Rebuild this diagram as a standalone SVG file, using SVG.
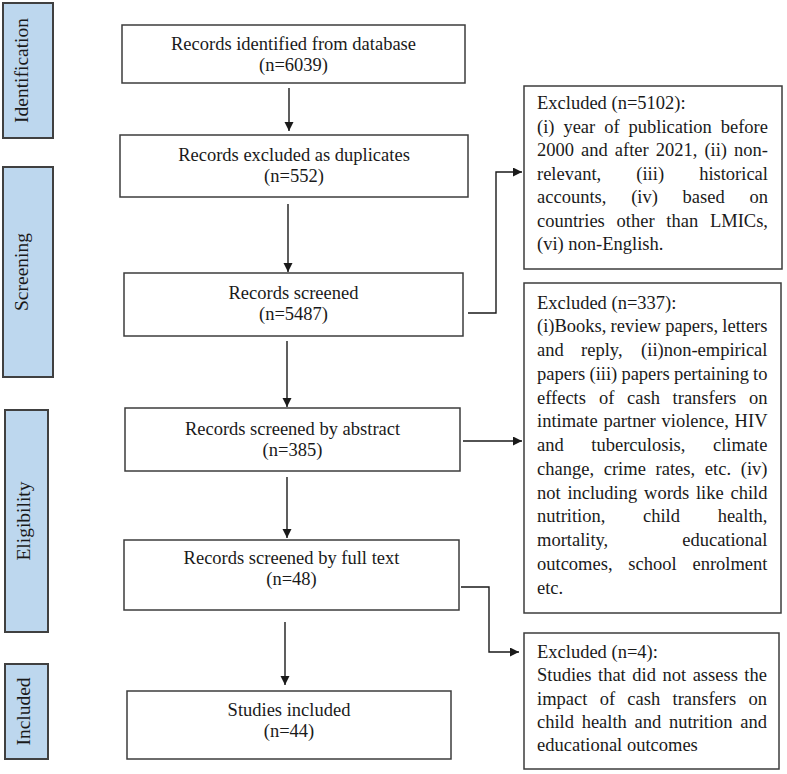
<svg xmlns="http://www.w3.org/2000/svg" width="787" height="774" viewBox="0 0 787 774">
<style>
  .bg{fill:#ffffff}
  .box{fill:#ffffff;stroke:#3c3c3c;stroke-width:1.5}
  .side{fill:#bdd7ee;stroke:#404040;stroke-width:2}
  text{font-family:"Liberation Serif","Times New Roman",serif;font-size:18.5px;fill:#1a1a1a}
  .c{text-anchor:middle}
  .lab{font-size:19.5px;text-anchor:middle}
  .conn{fill:none;stroke:#1a1a1a;stroke-width:1.4}
</style>
<defs>
  <marker id="ah" markerUnits="userSpaceOnUse" markerWidth="10" markerHeight="10" refX="9" refY="4.5" orient="auto">
    <path d="M0,0 L9,4.5 L0,9 Z" fill="#1a1a1a"/>
  </marker>
</defs>
<rect class="bg" x="0" y="0" width="787" height="774"/>

<g id="stage-identification">
  <rect class="side" x="3" y="3" width="50" height="135"/>
  <text class="lab" transform="translate(28,70.5) rotate(-90)">Identification</text>
</g>
<g id="stage-screening">
  <rect class="side" x="3" y="167" width="50" height="210"/>
  <text class="lab" transform="translate(27.5,272) rotate(-90)">Screening</text>
</g>
<g id="stage-eligibility">
  <rect class="side" x="5" y="410" width="43" height="222"/>
  <text class="lab" transform="translate(30,521) rotate(-90)">Eligibility</text>
</g>
<g id="stage-included">
  <rect class="side" x="5" y="664" width="43" height="95"/>
  <text class="lab" transform="translate(29.5,711.5) rotate(-90)">Included</text>
</g>

<g id="identified">
  <rect class="box" x="122" y="25" width="343" height="58"/>
  <text class="c" x="293.5" y="50">Records identified from database</text>
  <text class="c" x="293.5" y="71">(n=6039)</text>
</g>
<g id="duplicates">
  <rect class="box" x="120" y="135" width="348" height="62"/>
  <text class="c" x="294" y="161">Records excluded as duplicates</text>
  <text class="c" x="294" y="182">(n=552)</text>
</g>
<g id="screened">
  <rect class="box" x="124" y="273" width="339" height="63"/>
  <text class="c" x="293.5" y="299">Records screened</text>
  <text class="c" x="293.5" y="320">(n=5487)</text>
</g>
<g id="abstract">
  <rect class="box" x="125" y="408" width="335" height="63"/>
  <text class="c" x="292.5" y="435">Records screened by abstract</text>
  <text class="c" x="292.5" y="456">(n=385)</text>
</g>
<g id="fulltext">
  <rect class="box" x="124" y="540" width="335" height="70"/>
  <text class="c" x="291.5" y="564">Records screened by full text</text>
  <text class="c" x="291.5" y="585">(n=48)</text>
</g>
<g id="included">
  <rect class="box" x="127" y="691" width="324" height="68"/>
  <text class="c" x="289" y="716">Studies included</text>
  <text class="c" x="289" y="737">(n=44)</text>
</g>

<g id="excluded-5102">
  <rect class="box" x="524" y="86" width="258" height="183"/>
  <text x="537" y="109">Excluded (n=5102):</text>
  <text y="132.5"><tspan x="537">(i)</tspan><tspan x="563.41">year</tspan><tspan x="604.2">of</tspan><tspan x="628.56">publication</tspan><tspan x="720.75">before</tspan></text>
  <text y="156"><tspan x="537">2000</tspan><tspan x="581.05">and</tspan><tspan x="614.81">after</tspan><tspan x="655.75">2021,</tspan><tspan x="704.43">(ii)</tspan><tspan x="734.09">non-</tspan></text>
  <text y="179.5"><tspan x="537">relevant,</tspan><tspan x="636.3">(iii)</tspan><tspan x="699.14">historical</tspan></text>
  <text y="203"><tspan x="537">accounts,</tspan><tspan x="631.13">(iv)</tspan><tspan x="682.61">based</tspan><tspan x="749.5">on</tspan></text>
  <text y="226.5"><tspan x="537">countries</tspan><tspan x="616.56">other</tspan><tspan x="666.32">than</tspan><tspan x="709.92">LMICs,</tspan></text>
  <text x="537" y="250">(vi) non-English.</text>
</g>

<g id="excluded-337">
  <rect class="box" x="524" y="283" width="257" height="330"/>
  <text x="537" y="308.5">Excluded (n=337):</text>
  <text y="332.25"><tspan x="537">(i)Books,</tspan><tspan x="610.6">review</tspan><tspan x="665.16">papers,</tspan><tspan x="722.29">letters</tspan></text>
  <text y="356"><tspan x="537">and</tspan><tspan x="581.09">reply,</tspan><tspan x="641.11">(ii)non-empirical</tspan></text>
  <text y="379.75"><tspan x="537">papers</tspan><tspan x="589.48">(iii)</tspan><tspan x="621.42">papers</tspan><tspan x="673.89">pertaining</tspan><tspan x="753.1">to</tspan></text>
  <text y="403.5"><tspan x="537">effects</tspan><tspan x="598.98">of</tspan><tspan x="627.07">cash</tspan><tspan x="672.62">transfers</tspan><tspan x="749">on</tspan></text>
  <text y="427.25"><tspan x="537">intimate</tspan><tspan x="603.4">partner</tspan><tspan x="661.55">violence,</tspan><tspan x="734.61">HIV</tspan></text>
  <text y="451"><tspan x="537">and</tspan><tspan x="591.35">tuberculosis,</tspan><tspan x="713.03">climate</tspan></text>
  <text y="474.75"><tspan x="537">change,</tspan><tspan x="603.74">crime</tspan><tspan x="655.58">rates,</tspan><tspan x="704.85">etc.</tspan><tspan x="740.77">(iv)</tspan></text>
  <text y="498.5"><tspan x="537">not</tspan><tspan x="567.39">including</tspan><tspan x="644.03">words</tspan><tspan x="695.99">like</tspan><tspan x="730.49">child</tspan></text>
  <text y="522.25"><tspan x="537">nutrition,</tspan><tspan x="643.01">child</tspan><tspan x="717.66">health,</tspan></text>
  <text y="546"><tspan x="537">mortality,</tspan><tspan x="682.21">educational</tspan></text>
  <text y="569.75"><tspan x="537">outcomes,</tspan><tspan x="628.36">school</tspan><tspan x="692.48">enrolment</tspan></text>
  <text x="537" y="593.5">etc.</text>
</g>

<g id="excluded-4">
  <rect class="box" x="524" y="633" width="255" height="136"/>
  <text x="537" y="658">Excluded (n=4):</text>
  <text y="681.25"><tspan x="537">Studies</tspan><tspan x="598.01">that</tspan><tspan x="632.29">did</tspan><tspan x="662.46">not</tspan><tspan x="692.63">assess</tspan><tspan x="744.37">the</tspan></text>
  <text y="704.5"><tspan x="537">impact</tspan><tspan x="599.65">of</tspan><tspan x="627.35">cash</tspan><tspan x="672.51">transfers</tspan><tspan x="748.5">on</tspan></text>
  <text y="727.75"><tspan x="537">child</tspan><tspan x="581.66">health</tspan><tspan x="634.53">and</tspan><tspan x="668.9">nutrition</tspan><tspan x="740.29">and</tspan></text>
  <text x="537" y="751">educational outcomes</text>
</g>

<g id="connectors">
  <path class="conn" d="M289,88 V131" marker-end="url(#ah)"/>
  <path class="conn" d="M288,204 V272" marker-end="url(#ah)"/>
  <path class="conn" d="M287,341 V407" marker-end="url(#ah)"/>
  <path class="conn" d="M287,477 V538" marker-end="url(#ah)"/>
  <path class="conn" d="M285,622 V685" marker-end="url(#ah)"/>
  <path class="conn" d="M468,313 H496 V172 H522" marker-end="url(#ah)"/>
  <path class="conn" d="M463,441 H522" marker-end="url(#ah)"/>
  <path class="conn" d="M461,587 H489 V652 H519" marker-end="url(#ah)"/>
</g>
</svg>
